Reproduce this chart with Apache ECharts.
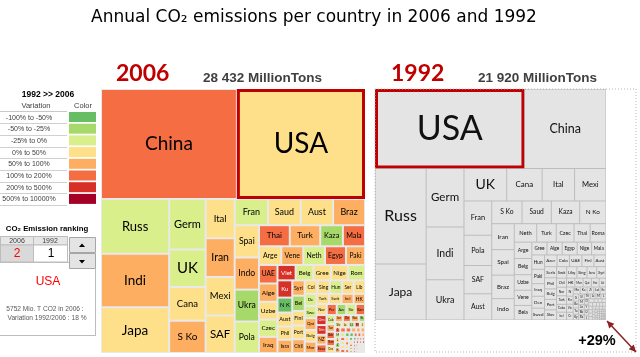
<!DOCTYPE html>
<html><head><meta charset="utf-8">
<script src="https://cdn.jsdelivr.net/npm/echarts@6/dist/echarts.min.js"></script>
<style>html,body{margin:0;padding:0;background:#fff}#c{width:640px;height:357px}</style>
</head><body><div id="c"></div>
<script>
// ---------------- data (Million tons CO2) ----------------
const countries = ['China','USA','Russ','Indi','Japa','Germ','UK','Cana','S Ko','Ital',
 'Iran','Mexi','SAF','Fran','Saud','Aust','Braz','Spai','Indo','Ukra',
 'Pola','Thai','Turk','Kaza','Mala','Arge','Vene','Neth','Egyp','Paki',
 'UAE','Alge','Uzbe','Czec','Belg','Iraq','Roma','Gree','Nige','Viet',
 'Kuwa','N Ko','Aust','Isra','Bela','Phil','Syri','Finl','Colo','Chil',
 'Port','Hung','Sing','Serb','Liby','Swed','Denm','Bulg','Qata','Swit',
 'Moro','Turk','Irel','Norw','HK','Peru','Bang','Slov','Azer','NZ',
 'Oman','Trin','Ecua','Cuba','Tuni','Bahr','Croa','Yeme','Bosn','Domi',
 'Jord','Esto','Slvn','Leba','Lith','Sri','Jama','Myan','Guat','Suda',
 'Keny','Zimb','Luxe','Mace','Boli','Mong','Ango','Maca','Latv','Mold',
 'Hond','Cypr','Brun','Ghan','Taji','Pana','Cost','Cote','Kyrg','Ethi',
 'Urug','Geor','Arme','Sene','Tanz','Alba','Icel','Malt','Maur','Nepa',
 'PNG','Camb','Came','Bots','Nami','Afgh','Ugan','Zamb','Mozm','Gabo',
 'Cong','DRC','Mada','Hait','Salv','Nica','Para','Bahm','NAnt','Mont',
 'Guya','Suri','Fiji','Laos','Nigr'];
const co2_2006 = [6100,5752,1520,1490,1270,750,560,500,480,465,
 460,455,445,355,350,345,340,320,318,316,
 312,265,262,195,190,170,168,165,160,145,
 140,138,135,130,112,122,106,110,108,114,
 104,90,84,80,78,80,78,74,70,70,
 70,68,68,64,62,58,58,56,56,52,
 54,52,50,47,47,45,42,43,43,40,
 41,40,35,31,26,25,24,24,22,22,
 22,17,16,15,14,12,12,12,11,11,
 11,11,11,11,10,9,9,9,8,8,
 8,8,8,8,7,7,7,7,6,6,
 6,5,5,5,5,4,3,3,4,3,
 4,4,4,4,3,1,3,2,2,2,
 2,2,2,2,6,4,4,2,5,2,
 2,2,1,1,1];
const co2_1992 = [2660,4875,2010,820,1175,912,570,474,283,434,
 240,420,322,391,274,299,217,236,198,625,
 345,122,148,265,76,118,110,170,79,75,
 60,80,112,134,117,66,120,80,76,22,
 20,246,58,46,105,55,44,58,60,37,
 52,75,48,55,48,62,62,52,30,48,
 30,35,32,35,30,22,15,50,60,25,
 10,12,17,32,14,12,21,10,12,10,
 12,28,13,11,25,5,9,5,5,4,
 6,19,10,12,6,10,5,5,18,20,
 3,6,6,4,6,4,3,3,13,3,
 5,16,8,3,2,2,2,2,1,1,
 2,1,2,2,1,2,1,2,1,5,
 1,2,1,1,3,2,2,2,4,2,
 1,2,1,1,1];
const total2006 = 28432;   // MillionTons, as printed
const total1992 = 21920;
const variationLabels = ['-100% to -50%','-50% to -25%','-25% to 0%','0% to 50%','50% to 100%','100% to 200%','200% to 500%','500% to 10000%'];
const classBounds = [-100,-50,-25,0,50,100,200,500,10000];
const selected = 'USA';

// ---------------- styles ----------------
const classColors = ['#66bd63','#a6d96a','#d9ef8b','#fee08b','#fdae61','#f46d43','#d73027','#a50026'];
const fs2006 = {'China':19,'USA':28,'Russ':13,'Indi':13.5,'Japa':13.5,'Germ':11,'UK':15,'SAF':11.5,'Cana':9.5,'S Ko':10,'Iran':10.5,'Ital':9.5,'Mexi':9.5};
const fs1992 = {'USA':34,'China':12.5,'Russ':16,'Japa':12,'Germ':11.5,'Indi':10.5,'UK':14,'Ukra':9};
const LFONT = 'Lato';

function classOf(v06, v92){
  const pct = (v06 / v92 - 1) * 100;
  for (let k = 0; k < classColors.length; k++) if (pct < classBounds[k+1]) return k;
  return classColors.length - 1;
}
function fontFor(name, value, sum, size, over, coef){
  if (over[name]) return over[name];
  const side = Math.sqrt(value / sum * size * size);
  let fs = coef * side + 2.5;
  fs = Math.min(fs, (side - 2) / (0.55 * name.length));
  return Math.max(fs, 3);
}
function buildSeries(left, top, size, values, fill, over, coef, bColor, bWidth){
  const sum = values.reduce((a,b)=>a+b,0);
  const data = countries.map((n,i)=>{
    const f = fill(i);
    const item = {
      name: n, value: values[i],
      itemStyle: {color: f.color, borderColor: bColor, borderWidth: bWidth},
      label: {fontSize: fontFor(n, values[i], sum, size, over, coef), color: f.text}
    };
    if (n === selected) { item.itemStyle.borderColor = '#c00000'; item.itemStyle.borderWidth = 3; }
    return item;
  });
  return {
    type: 'treemap', left: left, top: top, width: size, height: size,
    squareRatio: 0.98, roam: false, nodeClick: false, sort: 'desc', visibleMin: 0,
    breadcrumb: {show: false}, animation: false, silent: true,
    label: {show: true, position: 'inside', padding: 0, formatter: '{b}', fontFamily: LFONT, color: '#000', overflow: 'truncate', ellipsis: ''},
    upperLabel: {show: false},
    itemStyle: {borderColor: bColor, borderWidth: bWidth, gapWidth: 0},
    levels: [{itemStyle: {borderWidth: 0, gapWidth: 0, borderColor: bColor}}, {}],
    data: data
  };
}

const s2006 = buildSeries(101, 89, 264, co2_2006, i => {
  const k = classOf(co2_2006[i], co2_1992[i]);
  return {color: classColors[k], text: k >= 6 ? '#fff' : '#000'};
}, fs2006, 0.22, '#e9e9e9', 1);
const s1992 = buildSeries(375, 89, 231, co2_1992, i => ({color: '#e4e4e4', text: '#111'}), fs1992, 0.16, '#bdbdbd', 0.5);

// ---------------- decorations ----------------
const g = [];
const T = (x,y,text,opt) => g.push({type:'text', x:x, y:y, z:10, silent:true, style:Object.assign({text:text, textAlign:'center', textVerticalAlign:'middle', fontFamily:'Liberation Sans', fontSize:7, fill:'#000'}, opt||{})});
const R = (x,y,w,h,st) => g.push({type:'rect', shape:{x:x,y:y,width:w,height:h}, z:5, silent:true, style:st});
const L = (x1,y1,x2,y2,st) => g.push({type:'line', shape:{x1:x1,y1:y1,x2:x2,y2:y2}, z:6, silent:true, style:st});
const fmt = v => String(v).replace(/\B(?=(\d{3})+(?!\d))/g, ' ');

// title
T(314, 18, 'Annual CO₂ emissions per country in 2006 and 1992', {fontFamily:'DejaVu Sans', fontSize:17});
// headers
T(116, 74, '2006', {textAlign:'left', fontFamily:LFONT, fontWeight:'bold', fontSize:23, fill:'#c00000'});
T(203, 78, fmt(total2006) + ' MillionTons', {textAlign:'left', fontFamily:'Liberation Sans', fontWeight:'bold', fontSize:13.5, fill:'#404040'});
T(391, 74, '1992', {textAlign:'left', fontFamily:LFONT, fontWeight:'bold', fontSize:23, fill:'#c00000'});
T(478, 78, fmt(total1992) + ' MillionTons', {textAlign:'left', fontFamily:'Liberation Sans', fontWeight:'bold', fontSize:13.5, fill:'#404040'});

// dotted 2006-size frame around 1992
R(375, 89, 261, 263, {fill:'none', stroke:'#b5b5b5', lineWidth:1, lineDash:[1,2]});
// arrow
(function(){
  const x1=607,y1=321,x2=636,y2=352, c='#8b2323';
  L(x1,y1,x2,y2,{stroke:c, lineWidth:1.5});
  const dx=x2-x1, dy=y2-y1, len=Math.hypot(dx,dy), ux=dx/len, uy=dy/len, px=-uy, py=ux, hl=7, hw=3.5;
  g.push({type:'polygon', z:6, silent:true, shape:{points:[[x1,y1],[x1+ux*hl+px*hw,y1+uy*hl+py*hw],[x1+ux*hl-px*hw,y1+uy*hl-py*hw]]}, style:{fill:c}});
  g.push({type:'polygon', z:6, silent:true, shape:{points:[[x2,y2],[x2-ux*hl+px*hw,y2-uy*hl+py*hw],[x2-ux*hl-px*hw,y2-uy*hl-py*hw]]}, style:{fill:c}});
})();
T(597, 341, '+' + Math.floor((total2006/total1992 - 1)*100) + '%', {fontFamily:'Liberation Sans', fontWeight:'bold', fontSize:14.5, fill:'#000'});

// legend panel
T(48, 95, '1992 >> 2006', {fontWeight:'bold', fontSize:8.5});
T(36, 106, 'Variation', {fontSize:7.5, fill:'#404040'});
T(83, 106, 'Color', {fontSize:7.5, fill:'#404040'});
L(0, 111.5, 67, 111.5, {stroke:'#c8c8c8', lineWidth:1});
variationLabels.forEach((lab, k) => {
  const y0 = 112 + k * 11.7;
  T(29, y0 + 5.6, lab, {fontSize:7, fill:'#404040'});
  L(0, Math.round(y0 + 11.2) + 0.5, 67, Math.round(y0 + 11.2) + 0.5, {stroke:'#d0d0d0', lineWidth:1});
  R(69, y0, 27, 10, {fill:classColors[k]});
});

// ranking panel
const idx = countries.indexOf(selected);
const rank = arr => arr.filter(v => v > arr[idx]).length + 1;
T(47, 229, 'CO₂ Emission ranking', {fontWeight:'bold', fontSize:7.8});
R(0.5, 236.5, 33, 8.5, {fill:'#e6e6e6', stroke:'#bdbdbd', lineWidth:1});
R(33.5, 236.5, 34, 8.5, {fill:'#e6e6e6', stroke:'#bdbdbd', lineWidth:1});
T(17, 241, '2006', {fontSize:7, fill:'#404040'});
T(50, 241, '1992', {fontSize:7, fill:'#404040'});
R(0.5, 245, 33, 17, {fill:'#d9d9d9', stroke:'#bdbdbd', lineWidth:1});
R(33.5, 245, 34, 17, {fill:'#fff', stroke:'#bdbdbd', lineWidth:1});
T(17, 254, String(rank(co2_2006)), {fontSize:12, fill:'#ff0000'});
T(51, 254, String(rank(co2_1992)), {fontSize:12, fill:'#000'});
R(69.5, 237.5, 26, 15, {fill:'#e4e4e4', stroke:'#a6a6a6', lineWidth:1});
R(69.5, 253.5, 26, 15, {fill:'#e4e4e4', stroke:'#a6a6a6', lineWidth:1});
g.push({type:'polygon', z:7, silent:true, shape:{points:[[79,247],[85,247],[82,243.5]]}, style:{fill:'#000'}});
g.push({type:'polygon', z:7, silent:true, shape:{points:[[79,260],[85,260],[82,263.5]]}, style:{fill:'#000'}});
L(95.5, 268, 95.5, 336, {stroke:'#bdbdbd', lineWidth:1});
L(0, 335.5, 96, 335.5, {stroke:'#bdbdbd', lineWidth:1});
L(0, 262.5, 69, 262.5, {stroke:'#bdbdbd', lineWidth:1});
T(48, 282, selected, {fontSize:12, fill:'#ff0000'});
T(45, 309, co2_2006[idx] + ' Mio. T CO2 in 2006 :', {fontSize:6.6, fill:'#595959'});
T(47, 318, 'Variation 1992/2006 : ' + Math.round((co2_2006[idx]/co2_1992[idx]-1)*100) + ' %', {fontSize:6.6, fill:'#595959'});

const chart = echarts.init(document.getElementById('c'), null, {renderer:'canvas'});
chart.setOption({animation:false, series:[s2006, s1992], graphic:g});
</script></body></html>
